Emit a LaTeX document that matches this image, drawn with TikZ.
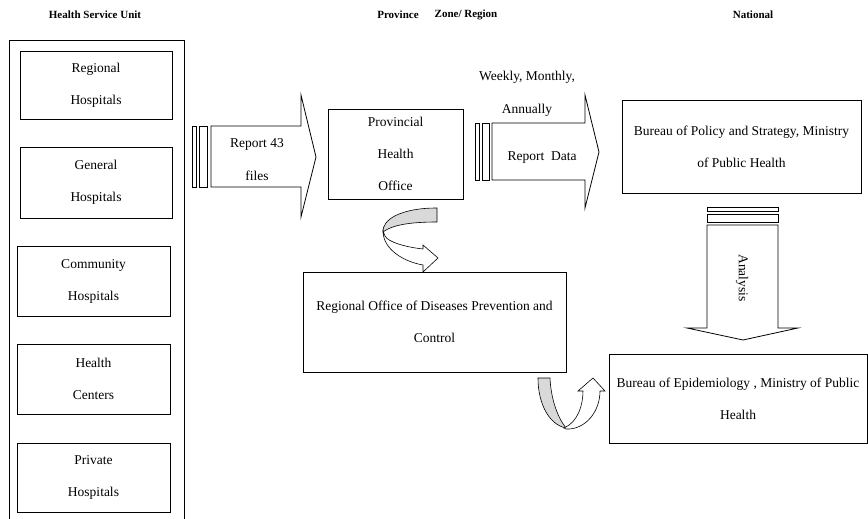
\documentclass[tikz,border=0pt]{standalone}
\usepackage{fontspec}
\setmainfont{Liberation Serif}
\begin{document}
\begin{tikzpicture}[x=1pt,y=-1pt,
    box/.style={draw, line width=0.8pt, align=center, inner sep=0pt, font=\fontsize{13.5}{32}\selectfont},
    label/.style={align=center, inner sep=0pt, font=\fontsize{13.5}{33}\selectfont},
    head/.style={inner sep=0pt, font=\bfseries\fontsize{11}{13}\selectfont},
    blockarrow/.style={draw, fill=white, line width=0.8pt},
    twist/.style={draw, fill=gray!30, line width=0.6pt}]
    \useasboundingbox (0,0) rectangle (868,519);

    % Headers
    \node[head] (hsu) at (95,15) {Health Service Unit};
    \node[head] (prv) at (398,15) {Province};
    \node[head] (zone) at (466,15) {Zone/ Region};
    \node[head] (nat) at (753,15) {National};

    % Health service units
    \draw[line width=0.8pt] (9,519) -- (9,40) -- (184,40) -- (184,519);
    \node[box, minimum width=152, minimum height=68] (reg) at (96,85) {Regional\\Hospitals};
    \node[box, minimum width=152, minimum height=71] (gen) at (96,182.5) {General\\Hospitals};
    \node[box, minimum width=153, minimum height=70] (com) at (93.5,281) {Community\\Hospitals};
    \node[box, minimum width=153, minimum height=70] (hc) at (93.5,379) {Health\\Centers};
    \node[box, minimum width=153, minimum height=69] (pri) at (93.5,477.5) {Private\\Hospitals};

    % Offices
    \node[box, minimum width=135, minimum height=90] (pho) at (395.5,154) {Provincial\\Health\\Office};
    \node[box, minimum width=263, minimum height=100] (odpc) at (434.5,322) {Regional Office of Diseases Prevention and\\Control};
    \node[box, minimum width=239, minimum height=93] (bps) at (741.5,146.5) {Bureau of Policy and Strategy, Ministry\\of Public Health};
    \node[box, minimum width=258, minimum height=89] (boe) at (738,398.5) {Bureau of Epidemiology , Ministry of Public\\Health};

    % Report arrow
    \draw[blockarrow] (192,126) rectangle (196,187);
    \draw[blockarrow] (199,126) rectangle (207,187);
    \draw[blockarrow] (211,126) -- (301,126) -- (301,95) -- (316,157) -- (301,217) -- (301,187) -- (211,187) -- cycle;
    \node[label] (rep) at (257,160) {Report 43\\files};

    % Report data arrow
    \draw[blockarrow] (475,123) rectangle (479,180);
    \draw[blockarrow] (482,123) rectangle (489,180);
    \draw[blockarrow] (492,123) -- (585,123) -- (585,95) -- (599,152) -- (585,208) -- (585,180) -- (492,180) -- cycle;
    \node[label] (freq) at (527,93.5) {Weekly, Monthly,\\Annually};
    \node[label] (data) at (542,158) {Report~~Data};

    % Analysis arrow
    \draw[blockarrow] (707,207) rectangle (778,211);
    \draw[blockarrow] (707,214) rectangle (778,222);
    \draw[blockarrow] (707,225) -- (778,225) -- (778,328) -- (798,328) -- (743,340) -- (687,328) -- (707,328) -- cycle;
    \node[label, rotate=-90] (ana) at (742,278) {Analysis};

    % Curved arrow to regional office
    \draw[twist] (437,208) .. controls (400,208) and (382,220) .. (383,232)
        .. controls (392,225) and (410,222) .. (437,222) -- cycle;
    \draw[blockarrow, line width=0.6pt] (383,231) .. controls (383,250) and (405,262) .. (423,265)
        -- (423,272) -- (438,258) -- (423,245) -- (423,249)
        .. controls (405,247) and (388,242) .. (385,236) -- cycle;

    % Curved arrow to epidemiology
    \draw[twist] (538,378) -- (550,378) .. controls (551,400) and (558,418) .. (566,428)
        .. controls (550,425) and (538,405) .. (538,378) -- cycle;
    \draw[blockarrow, line width=0.6pt] (564,428) .. controls (578,422) and (583,405) .. (583,391)
        -- (578,391) -- (593,378) -- (605,391) -- (600,391)
        .. controls (600,412) and (585,430) .. (566,429) -- cycle;
\end{tikzpicture}
\end{document}
